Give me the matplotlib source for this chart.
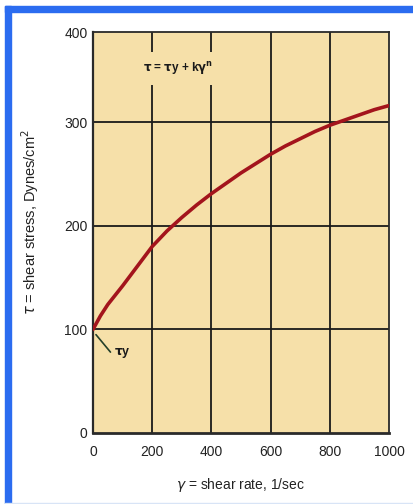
import numpy as np
import matplotlib.pyplot as plt
from matplotlib.patches import Rectangle

# shear rate (1/sec) vs shear stress (Dynes/cm2)
rate = [0, 25, 50, 75, 100, 150, 200, 250, 300, 350, 400, 450, 500,
        550, 600, 650, 700, 750, 800, 850, 900, 950, 1000]
stress = [100, 113, 124, 133, 142, 161, 180, 195, 208, 220, 231, 241, 251,
          260, 269, 277, 284, 291, 297, 302, 307, 312, 316]

xticks = [0, 200, 400, 600, 800, 1000]
yticks = [0, 100, 200, 300, 387]
ylabels = ["0", "100", "200", "300", "400"]

bg = "#f6e0a9"
blue = "#2b6cf0"
fnt = ["Liberation Sans", "DejaVu Sans"]

fig = plt.figure(figsize=(4.14, 5.04), dpi=100, facecolor="white")

# blue frame on the left and top
fig.patches.append(Rectangle((5 / 414, 0), 6 / 414, 1 - 6 / 504, transform=fig.transFigure,
                             color=blue, zorder=0))
fig.patches.append(Rectangle((5 / 414, 1 - 12 / 504), 1, 6 / 504, transform=fig.transFigure,
                             color=blue, zorder=0))
fig.patches.append(Rectangle((5 / 414, 0), 1, 1.5 / 504, transform=fig.transFigure,
                             color="#d8e4f6", zorder=0))

ax = fig.add_axes([93 / 414, 1 - 433 / 504, 296 / 414, 401 / 504])
ax.set_facecolor(bg)
ax.set_xlim(0, 1000)
ax.set_ylim(0, 387)

ax.set_xticks(xticks)
ax.set_xticklabels([str(t) for t in xticks], family=fnt, fontsize=10, color="#222222")
ax.set_yticks(yticks)
ax.set_yticklabels(ylabels, family=fnt, fontsize=10, color="#222222")
ax.tick_params(length=0)
ax.tick_params(axis="x", pad=9)
ax.tick_params(axis="y", pad=4)

for x in xticks[1:-1]:
    ax.axvline(x, color="#1a1a1a", lw=1.3, zorder=1)
for y in yticks[1:-1]:
    ax.axhline(y, color="#1a1a1a", lw=1.3, zorder=1)

for s in ax.spines.values():
    s.set_color("#2a2a2a")
    s.set_linewidth(1.3)
ax.spines["bottom"].set_linewidth(2)
ax.spines["left"].set_linewidth(1.6)

ax.plot(rate, stress, color="#a3141c", lw=2.6, zorder=3,
        solid_capstyle="round", solid_joinstyle="round")

ax.text(288, 352, r"$\mathbf{\tau}$ = $\mathbf{\tau}$y + k$\mathbf{\gamma}^\mathbf{n}$",
        ha="center", va="center", fontsize=8.5, fontweight="bold", family=fnt,
        color="#1a1a1a", zorder=4,
        bbox=dict(facecolor=bg, edgecolor="none", boxstyle="square,pad=0.7"))

ax.annotate("", xy=(4, 97), xytext=(65, 76),
            arrowprops=dict(arrowstyle="-", color="#24402a", lw=1.2), zorder=4)
ax.text(72, 77, r"$\mathbf{\tau}$y", ha="left", va="center", fontsize=9,
        fontweight="bold", family=fnt, color="#1a1a1a", zorder=4)

ax.set_xlabel(r"$\gamma$ = shear rate, 1/sec", family=fnt, fontsize=10, color="#222222",
              labelpad=12)
ax.set_ylabel(r"$\tau$ = shear stress, Dynes/cm$^2$", family=fnt, fontsize=10.5, color="#222222")
ax.yaxis.set_label_coords(-0.175, 0.525)

plt.savefig("out.png", dpi=100, facecolor="white")
